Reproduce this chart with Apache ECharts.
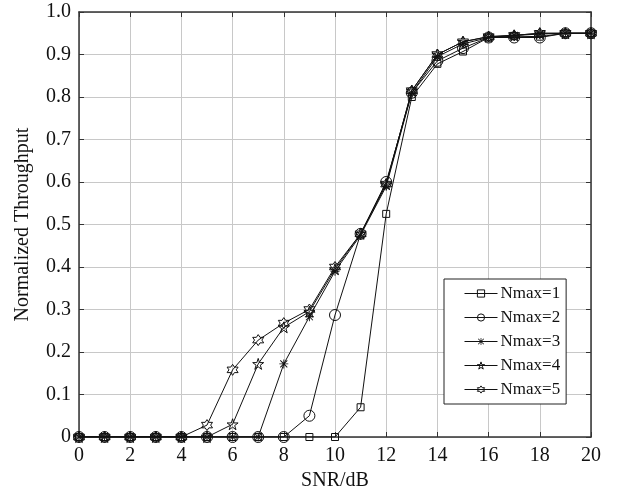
<!DOCTYPE html>
<html>
<head>
<meta charset="utf-8">
<script src="https://cdn.jsdelivr.net/npm/echarts@6/dist/echarts.min.js"></script>
<style>
  html, body { margin: 0; padding: 0; background: #fff; }
  #chart { width: 620px; height: 496px; }
</style>
</head>
<body>
<div id="chart"></div>
<script>
// x values (SNR in dB)
const snr = [0, 1, 2, 3, 4, 5, 6, 7, 8, 9, 10, 11, 12, 13, 14, 15, 16, 17, 18, 19, 20]

// normalized throughput for each Nmax
const nmax1 = [0, 0, 0, 0, 0, 0, 0, 0, 0, 0, 0, 0.07, 0.525, 0.80, 0.878, 0.907, 0.94, 0.943, 0.942, 0.95, 0.95]
const nmax2 = [0, 0, 0, 0, 0, 0, 0, 0, 0, 0.05, 0.287, 0.478, 0.60, 0.81, 0.885, 0.915, 0.94, 0.94, 0.94, 0.95, 0.95]
const nmax3 = [0, 0, 0, 0, 0, 0, 0, 0, 0.172, 0.283, 0.39, 0.475, 0.59, 0.81, 0.895, 0.925, 0.94, 0.945, 0.948, 0.95, 0.95]
const nmax4 = [0, 0, 0, 0, 0, 0, 0.03, 0.172, 0.258, 0.295, 0.395, 0.478, 0.595, 0.815, 0.90, 0.93, 0.942, 0.945, 0.95, 0.95, 0.95]
const nmax5 = [0, 0, 0, 0, 0, 0.028, 0.158, 0.228, 0.268, 0.30, 0.40, 0.478, 0.595, 0.815, 0.90, 0.93, 0.942, 0.945, 0.95, 0.95, 0.95]

const seriesNames = ['Nmax=1', 'Nmax=2', 'Nmax=3', 'Nmax=4', 'Nmax=5']

// marker shapes (matlab style: square, circle, asterisk, pentagram, hexagram)
const asterisk = 'path://M9 0 H11 V20 H9 Z M0 9 H20 V11 H0 Z M1.5 3 L3 1.5 L18.5 17 L17 18.5 Z M17 1.5 L18.5 3 L3 18.5 L1.5 17 Z'
const pentagram = 'path://M10 0 L12.245 6.91 L19.511 6.91 L13.633 11.18 L15.878 18.09 L10 13.82 L4.122 18.09 L6.367 11.18 L0.489 6.91 L7.755 6.91 Z'
const hexagram = 'path://M10 0 L12.887 5 L18.66 5 L15.77 10 L18.66 15 L12.887 15 L10 20 L7.113 15 L1.34 15 L4.23 10 L1.34 5 L7.113 5 Z'

const FONT = "'Liberation Serif', 'Times New Roman', serif"
const HOLLOW = 'rgba(255,255,255,0)'

const pairs = (ys) => snr.map((x, i) => [x, ys[i]])

function mkSeries(name, ys, symbol, size, filled) {
    return {
        name: name,
        type: 'line',
        data: pairs(ys),
        symbol: symbol,
        symbolSize: size,
        showAllSymbol: true,
        lineStyle: { color: '#111', width: 1 },
        itemStyle: {
            color: filled ? '#111' : HOLLOW,
            borderColor: '#111',
            borderWidth: filled ? 0 : 1
        },
        emphasis: { disabled: true }
    }
}

// legend entries, each with its own hollow/filled marker style
const legendData = seriesNames.map((n, i) => ({
    name: n,
    itemStyle: i === 2
        ? { color: '#111', borderWidth: 0 }
        : { color: HOLLOW, borderColor: '#111', borderWidth: 1 },
    lineStyle: { color: '#111', width: 1 }
}))

let myChart = echarts.init(document.getElementById('chart'))

let option = {
    animation: false,
    backgroundColor: '#fff',
    grid: { left: 79, right: 29, top: 12, bottom: 59 },
    legend: {
        orient: 'vertical',
        left: 444,
        top: 279,
        data: legendData,
        itemWidth: 33,
        itemHeight: 9,
        itemGap: 7,
        padding: [6, 6, 6, 20],
        borderColor: '#222',
        borderWidth: 1,
        backgroundColor: '#fff',
        textStyle: { fontFamily: FONT, fontSize: 17, color: '#111', padding: [0, 0, 0, -2], lineHeight: 17 }
    },
    xAxis: [{
        type: 'value',
        min: 0,
        max: 20,
        interval: 2,
        name: 'SNR/dB',
        nameLocation: 'middle',
        nameGap: 32,
        nameTextStyle: { fontFamily: FONT, fontSize: 20, color: '#111' },
        axisLine: { onZero: false, lineStyle: { color: '#333', width: 1.5 } },
        axisTick: { inside: true, length: 5, lineStyle: { color: '#333' } },
        axisLabel: { fontFamily: FONT, fontSize: 20, color: '#111', margin: 9 },
        splitLine: { show: true, lineStyle: { color: '#c8c8c8', width: 1 } }
    }, {
        type: 'value',
        position: 'top',
        min: 0,
        max: 20,
        interval: 2,
        axisLine: { onZero: false, lineStyle: { color: '#333', width: 1.5 } },
        axisTick: { inside: true, length: 5, lineStyle: { color: '#333' } },
        axisLabel: { show: false },
        splitLine: { show: false }
    }],
    yAxis: [{
        type: 'value',
        min: 0,
        max: 1,
        interval: 0.1,
        name: 'Normalized Throughput',
        nameLocation: 'middle',
        nameGap: 46,
        nameTextStyle: { fontFamily: FONT, fontSize: 20, color: '#111' },
        axisLine: { show: true, onZero: false, lineStyle: { color: '#333', width: 1.5 } },
        axisTick: { show: true, inside: true, length: 5, lineStyle: { color: '#333' } },
        axisLabel: {
            fontFamily: FONT, fontSize: 20, color: '#111', margin: 8,
            formatter: (v) => v === 0 ? '0' : v.toFixed(1)
        },
        splitLine: { show: true, lineStyle: { color: '#c8c8c8', width: 1 } }
    }, {
        type: 'value',
        position: 'right',
        min: 0,
        max: 1,
        interval: 0.1,
        axisLine: { show: true, onZero: false, lineStyle: { color: '#333', width: 1.5 } },
        axisTick: { show: true, inside: true, length: 5, lineStyle: { color: '#333' } },
        axisLabel: { show: false },
        splitLine: { show: false }
    }],
    series: [
        mkSeries(seriesNames[0], nmax1, 'rect', 7, false),
        mkSeries(seriesNames[1], nmax2, 'circle', 11, false),
        mkSeries(seriesNames[2], nmax3, asterisk, 9, true),
        mkSeries(seriesNames[3], nmax4, pentagram, 11, false),
        mkSeries(seriesNames[4], nmax5, hexagram, 11, false)
    ]
}

myChart.setOption(option)
</script>
</body>
</html>
